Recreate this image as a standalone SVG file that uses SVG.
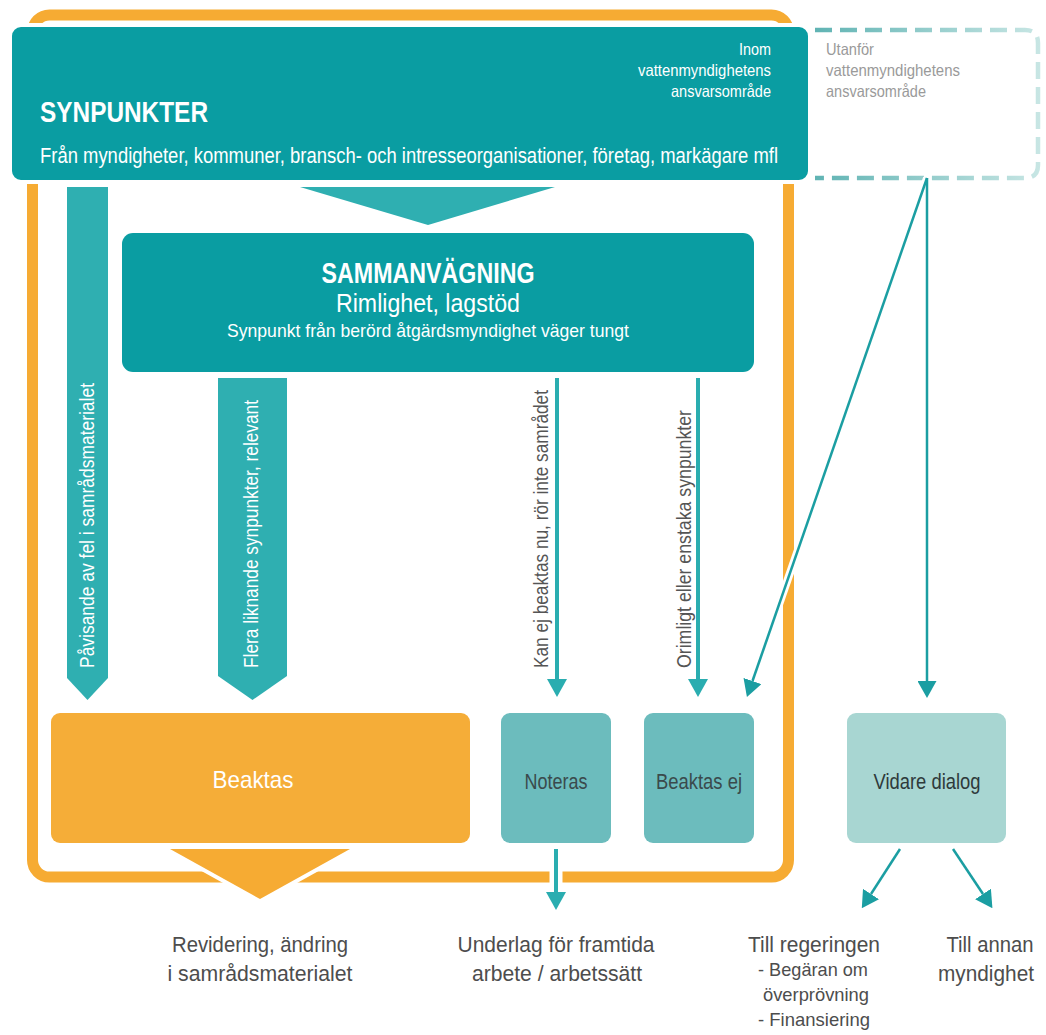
<svg xmlns="http://www.w3.org/2000/svg" width="1046" height="1035" viewBox="0 0 1046 1035">
<defs>
<style>
text{font-family:"Liberation Sans","Noto Sans",sans-serif;}
.b{font-weight:bold}
.w{fill:#ffffff}
.g{fill:#4d4d4d}
.lbl{fill:#555555}
.dk{fill:#3a4a4c}
.gr{fill:#9a9a9a}
.teal{fill:#0a9da2}
.lt{fill:#2fafb1}
.ln{stroke:#2aadb0;stroke-width:4;fill:none}
.ln2{stroke:#1b9ea2;stroke-width:2.5;fill:none}
.halo{stroke:#ffffff;fill:none}
.mid{text-anchor:middle}
.end{text-anchor:end}
</style>
<marker id="ah" markerUnits="userSpaceOnUse" viewBox="0 0 18 20" markerWidth="18" markerHeight="20" refX="0" refY="10" orient="auto"><path d="M0,0 L18,10 L0,20 z" fill="#2aadb0"/></marker>
<marker id="ah2" markerUnits="userSpaceOnUse" viewBox="0 0 17 19" markerWidth="17" markerHeight="19" refX="0" refY="9.5" orient="auto"><path d="M0,0 L17,9.5 L0,19 z" fill="#1b9ea2"/></marker>
<linearGradient id="dg" gradientUnits="userSpaceOnUse" x1="813" y1="0" x2="1040" y2="0"><stop offset="0" stop-color="#5fb3b3"/><stop offset="1" stop-color="#c8e6e4"/></linearGradient>
</defs>
<rect width="1046" height="1035" fill="#ffffff"/>

<g id="frame">
<rect x="32.5" y="15" width="756" height="862" rx="17" fill="none" stroke="#f6ab33" stroke-width="11"/>
</g>

<g id="synpunkter">
<rect x="10" y="25" width="800" height="157" rx="11" class="teal" stroke="#ffffff" stroke-width="4"/>
<text x="40" y="122" class="w b" font-size="30" textLength="168" lengthAdjust="spacingAndGlyphs">SYNPUNKTER</text>
<text x="40" y="163" class="w" font-size="22" textLength="738" lengthAdjust="spacingAndGlyphs">Från myndigheter, kommuner, bransch- och intresseorganisationer, företag, markägare mfl</text>
<text x="771" y="55" class="w end" font-size="16.5" textLength="32" lengthAdjust="spacingAndGlyphs">Inom</text>
<text x="771" y="76" class="w end" font-size="16.5" textLength="133" lengthAdjust="spacingAndGlyphs">vattenmyndighetens</text>
<text x="771" y="97" class="w end" font-size="16.5" textLength="100" lengthAdjust="spacingAndGlyphs">ansvarsområde</text>
</g>

<g id="utanfor">
<path d="M815,30 H1025 Q1038,30 1038,43 V165 Q1038,178 1025,178 H815" fill="none" stroke="url(#dg)" stroke-width="4.5" stroke-dasharray="17 8"/>
<text x="826" y="55" class="gr" font-size="16.5" textLength="48" lengthAdjust="spacingAndGlyphs">Utanför</text>
<text x="826" y="76" class="gr" font-size="16.5" textLength="134" lengthAdjust="spacingAndGlyphs">vattenmyndighetens</text>
<text x="826" y="97" class="gr" font-size="16.5" textLength="100" lengthAdjust="spacingAndGlyphs">ansvarsområde</text>
</g>

<g id="connectors">
<polygon points="300,187 555,187 428,225" class="lt"/>
<polygon points="67,187 108,187 108,678 87.5,700 67,678" class="lt"/>
<text transform="rotate(-90 94 668)" x="94" y="668" class="w" font-size="21" textLength="285" lengthAdjust="spacingAndGlyphs">Påvisande av fel i samrådsmaterialet</text>
<polygon points="218,378 287,378 287,676 252.5,700 218,676" class="lt"/>
<text transform="rotate(-90 258 668)" x="258" y="668" class="w" font-size="21" textLength="268" lengthAdjust="spacingAndGlyphs">Flera liknande synpunkter, relevant</text>
<line x1="557" y1="378" x2="557" y2="679" class="ln" marker-end="url(#ah)"/>
<text transform="rotate(-90 548 668)" x="548" y="668" class="lbl" font-size="21" textLength="278" lengthAdjust="spacingAndGlyphs">Kan ej beaktas nu, rör inte samrådet</text>
<line x1="698" y1="378" x2="698" y2="679" class="ln" marker-end="url(#ah)"/>
<text transform="rotate(-90 691 668)" x="691" y="668" class="lbl" font-size="21" textLength="258" lengthAdjust="spacingAndGlyphs">Orimligt eller enstaka synpunkter</text>
<line x1="927" y1="178" x2="752.5" y2="681" class="halo" stroke-width="8"/>
<line x1="927" y1="178" x2="752.5" y2="681" class="ln2" marker-end="url(#ah2)"/>
<line x1="927" y1="178" x2="927" y2="681" class="ln2" marker-end="url(#ah2)"/>
<polygon points="170,849 350,849 260,899" fill="#f6ab33" stroke="#ffffff" stroke-width="8" paint-order="stroke" stroke-linejoin="round"/>
<line x1="556" y1="849" x2="556" y2="892" class="halo" stroke-width="13"/>
<line x1="556" y1="849" x2="556" y2="892" class="ln" marker-end="url(#ah)"/>
<line x1="900" y1="849" x2="871" y2="894" class="ln2" marker-end="url(#ah2)"/>
<line x1="953" y1="849" x2="983" y2="894" class="ln2" marker-end="url(#ah2)"/>
</g>

<g id="sammanvagning">
<rect x="122" y="233" width="632" height="139" rx="11" class="teal"/>
<text x="428" y="283" class="w b mid" font-size="29" textLength="213" lengthAdjust="spacingAndGlyphs">SAMMANVÄGNING</text>
<text x="428" y="312" class="w mid" font-size="25" textLength="184" lengthAdjust="spacingAndGlyphs">Rimlighet, lagstöd</text>
<text x="428" y="337" class="w mid" font-size="19" textLength="402" lengthAdjust="spacingAndGlyphs">Synpunkt från berörd åtgärdsmyndighet väger tungt</text>
</g>

<g id="beaktas">
<rect x="51" y="713" width="419" height="130" rx="9" fill="#f5ad38"/>
<text x="253" y="788" class="w mid" font-size="24" textLength="81" lengthAdjust="spacingAndGlyphs">Beaktas</text>
</g>

<g id="noteras">
<rect x="501" y="713" width="110" height="130" rx="9" fill="#6cbcbd"/>
<text x="556" y="789" class="dk mid" font-size="22" textLength="63" lengthAdjust="spacingAndGlyphs">Noteras</text>
</g>

<g id="beaktas-ej">
<rect x="644" y="713" width="110" height="130" rx="9" fill="#6cbcbd"/>
<text x="699" y="789" class="dk mid" font-size="22" textLength="86" lengthAdjust="spacingAndGlyphs">Beaktas ej</text>
</g>

<g id="vidare-dialog">
<rect x="847" y="713" width="159" height="130" rx="9" fill="#a8d6d2"/>
<text x="927" y="789" class="mid" fill="#2e3a3b" font-size="22" textLength="107" lengthAdjust="spacingAndGlyphs">Vidare dialog</text>
</g>

<g id="revidering">
<text x="260" y="952" class="g mid" font-size="22" textLength="176" lengthAdjust="spacingAndGlyphs">Revidering, ändring</text>
<text x="260" y="981" class="g mid" font-size="22" textLength="185" lengthAdjust="spacingAndGlyphs">i samrådsmaterialet</text>
</g>

<g id="underlag">
<text x="556" y="952" class="g mid" font-size="22" textLength="197" lengthAdjust="spacingAndGlyphs">Underlag för framtida</text>
<text x="557" y="981" class="g mid" font-size="22" textLength="170" lengthAdjust="spacingAndGlyphs">arbete / arbetssätt</text>
</g>

<g id="till-regeringen">
<text x="814" y="952" class="g mid" font-size="22" textLength="132" lengthAdjust="spacingAndGlyphs">Till regeringen</text>
<text x="813" y="976" class="g mid" font-size="19" textLength="110" lengthAdjust="spacingAndGlyphs">- Begäran om</text>
<text x="816" y="1001" class="g mid" font-size="19" textLength="106" lengthAdjust="spacingAndGlyphs">överprövning</text>
<text x="814" y="1026" class="g mid" font-size="19" textLength="112" lengthAdjust="spacingAndGlyphs">- Finansiering</text>
</g>

<g id="till-annan">
<text x="990" y="952" class="g mid" font-size="22" textLength="87" lengthAdjust="spacingAndGlyphs">Till annan</text>
<text x="986" y="981" class="g mid" font-size="22" textLength="96" lengthAdjust="spacingAndGlyphs">myndighet</text>
</g>
</svg>
